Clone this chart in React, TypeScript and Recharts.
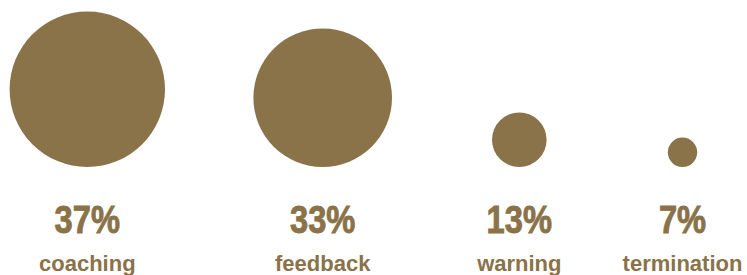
import { ScatterChart, Scatter, XAxis, YAxis, ZAxis, LabelList } from "recharts";

const categories = ["coaching", "feedback", "warning", "termination"];
const shares = [37, 33, 13, 7];
// horizontal slot of each bubble, in x-axis units
const slots = [87.3, 322.7, 519.3, 682.5];

const BROWN = "#8a7249";

const data = categories.map((name, i) => ({
  name,
  value: shares[i],
  slot: slots[i],
  base: 0,
  // radius grows with the share, so the area goes with its square
  area: shares[i] * shares[i],
}));

const Bubble = (props: any) => {
  const { cx, cy, width } = props;
  const r = width / 2;
  return <circle cx={cx} cy={cy - r} r={r} fill={BROWN} />;
};

const PctLabel = (props: any) => {
  const { x, y, width, height, value } = props;
  const tx = x + width / 2;
  const ty = y + height / 2 + 66;
  return (
    <text
      transform={`translate(${tx},${ty}) scale(0.86,1)`}
      textAnchor="middle"
      fill={BROWN}
      stroke={BROWN}
      strokeWidth={0.9}
      fontFamily="'Liberation Sans', sans-serif"
      fontWeight="bold"
      fontSize={38}
    >
      {value}%
    </text>
  );
};

const NameLabel = (props: any) => {
  const { x, y, width, height, value } = props;
  return (
    <text
      x={x + width / 2}
      y={y + height / 2 + 104}
      textAnchor="middle"
      fill={BROWN}
      fontFamily="'Liberation Sans', sans-serif"
      fontWeight="bold"
      fontSize={22}
    >
      {value}
    </text>
  );
};

export default function App() {
  return (
    <div style={{ position: "absolute", left: 0, top: 0, background: "#fff" }}>
      <ScatterChart width={747} height={275} margin={{ top: 0, right: 0, bottom: 108, left: 0 }}>
        <XAxis type="number" dataKey="slot" domain={[0, 747]} hide />
        <YAxis type="number" dataKey="base" domain={[0, 1]} hide />
        <ZAxis type="number" dataKey="area" domain={[0, 37 * 37]} range={[0, Math.PI * 77.7 * 77.7]} />
        <Scatter data={data} shape={<Bubble />} isAnimationActive={false}>
          <LabelList dataKey="value" content={<PctLabel />} />
          <LabelList dataKey="name" content={<NameLabel />} />
        </Scatter>
      </ScatterChart>
    </div>
  );
}
